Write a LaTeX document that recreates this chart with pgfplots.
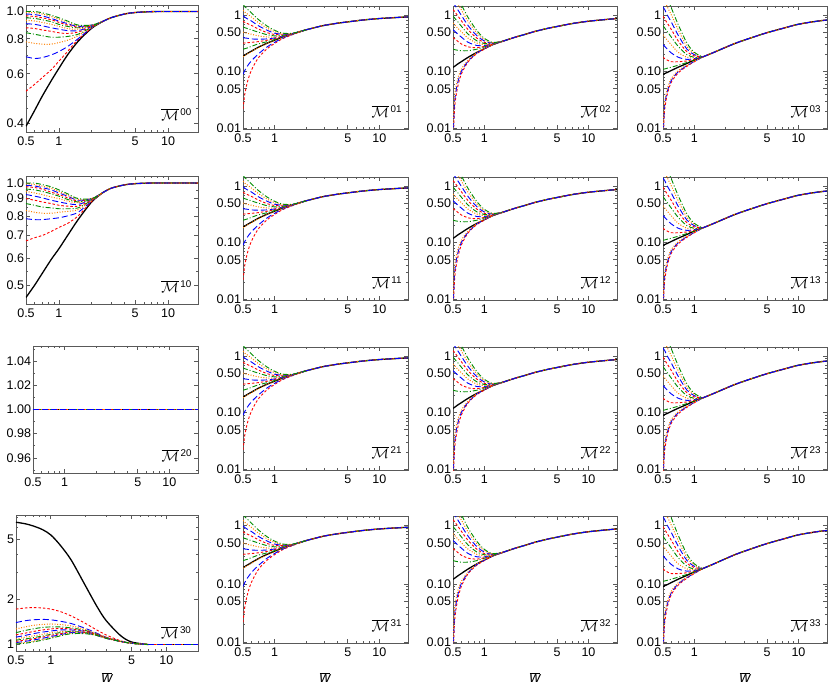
\documentclass[border=0pt]{standalone}
\usepackage{pgfplots}
\pgfplotsset{compat=1.18}
\usepackage{pgfplotstable}
\usepackage{fontspec}
\setmainfont{Liberation Sans}

\definecolor{cR}{rgb}{1,0,0}
\definecolor{cB}{rgb}{0,0,1}
\definecolor{cO}{rgb}{1,0.5,0}
\definecolor{cG}{rgb}{0,0.55,0}
\definecolor{frameC}{gray}{0.35}

% M00 head
\pgfplotstableread{
x k c1 c2 c3 c4 c5 c6 c7 c8 c9 c10 c11 c12
0.5 0.39 0.52 0.69 0.78 0.84 0.875 0.905 0.93 0.95 0.965 0.98 0.99 1.0
0.6 0.444 0.55 0.68 0.77 0.83 0.87 0.90 0.925 0.945 0.96 0.975 0.99 1.0
0.7 0.497 0.58 0.685 0.765 0.82 0.86 0.89 0.915 0.935 0.95 0.965 0.98 0.99
0.85 0.566 0.62 0.70 0.765 0.81 0.85 0.875 0.90 0.92 0.935 0.945 0.96 0.97
1 0.627 0.665 0.72 0.775 0.81 0.84 0.865 0.885 0.90 0.915 0.925 0.94 0.95
1.2 0.70 0.72 0.75 0.79 0.815 0.835 0.855 0.87 0.885 0.895 0.905 0.915 0.925
1.5 0.783 0.795 0.80 0.82 0.83 0.845 0.855 0.865 0.875 0.88 0.885 0.89 0.895
2 0.872 0.874 0.876 0.878 0.88 0.882 0.885 0.887 0.89 0.89 0.895 0.895 0.895
2.5 0.92 0.92 0.92 0.92 0.92 0.92 0.92 0.92 0.92 0.92 0.92 0.92 0.92
}\hAA
\pgfplotstableread{
x y
2.5 0.92
3 0.95
4 0.98
5 0.992
7 0.999
10 1.0
18.8 1.0
}\tAA

% M10 head
\pgfplotstableread{
x k c1 c2 c3 c4 c5 c6 c7 c8 c9 c10 c11 c12
0.5 0.46 0.675 0.785 0.83 0.87 0.90 0.925 0.945 0.96 0.975 0.985 0.995 1.0
0.6 0.50 0.69 0.78 0.82 0.86 0.89 0.915 0.935 0.955 0.97 0.98 0.99 1.0
0.7 0.54 0.70 0.78 0.815 0.85 0.88 0.905 0.925 0.945 0.96 0.97 0.98 0.99
0.85 0.595 0.72 0.785 0.815 0.845 0.87 0.89 0.91 0.93 0.94 0.955 0.965 0.975
1 0.64 0.74 0.79 0.82 0.84 0.86 0.88 0.90 0.915 0.925 0.935 0.945 0.955
1.2 0.70 0.76 0.80 0.825 0.84 0.855 0.87 0.885 0.895 0.905 0.915 0.92 0.93
1.5 0.78 0.80 0.82 0.835 0.845 0.855 0.865 0.875 0.88 0.885 0.89 0.895 0.90
2 0.88 0.883 0.885 0.888 0.89 0.89 0.895 0.895 0.895 0.90 0.90 0.90 0.90
2.5 0.935 0.935 0.935 0.935 0.935 0.935 0.935 0.935 0.935 0.935 0.935 0.935 0.935
}\hBA
\pgfplotstableread{
x y
2.5 0.935
3 0.965
4 0.988
5 0.996
7 1.0
10 1.0
18.8 1.0
}\tBA

% M20 (flat)
\pgfplotstableread{
x y
0.5 1
18.8 1
}\tCA

% M30 head
\pgfplotstableread{
x k c1 c2 c3 c4 c5 c6 c7 c8 c9 c10 c11 c12
0.5 6.5 1.72 1.40 1.27 1.20 1.16 1.12 1.09 1.07 1.05 1.03 1.02 1.01
0.6 6.35 1.75 1.44 1.31 1.24 1.19 1.15 1.12 1.09 1.07 1.05 1.03 1.02
0.7 6.15 1.76 1.46 1.34 1.27 1.22 1.18 1.14 1.11 1.09 1.07 1.05 1.04
0.85 5.8 1.75 1.47 1.36 1.30 1.25 1.21 1.17 1.14 1.12 1.10 1.08 1.07
1 5.35 1.72 1.46 1.37 1.31 1.27 1.23 1.20 1.17 1.15 1.13 1.11 1.10
1.2 4.6 1.66 1.43 1.36 1.31 1.28 1.25 1.22 1.20 1.18 1.16 1.15 1.14
1.5 3.65 1.55 1.38 1.33 1.29 1.27 1.25 1.23 1.22 1.21 1.20 1.19 1.18
2 2.45 1.38 1.28 1.26 1.24 1.23 1.22 1.21 1.20 1.20 1.19 1.19 1.18
2.5 1.8 1.25 1.19 1.18 1.17 1.17 1.16 1.16 1.16 1.16 1.15 1.15 1.15
3 1.45 1.16 1.12 1.12 1.11 1.11 1.11 1.11 1.11 1.11 1.10 1.10 1.10
4 1.15 1.06 1.05 1.05 1.05 1.05 1.05 1.05 1.05 1.05 1.05 1.05 1.05
5 1.04 1.02 1.02 1.02 1.02 1.02 1.02 1.02 1.02 1.02 1.02 1.02 1.02
7 1.0 1.0 1.0 1.0 1.0 1.0 1.0 1.0 1.0 1.0 1.0 1.0 1.0
}\hDA
\pgfplotstableread{
x y
7 1.0
10 1.0
18.8 1.0
}\tDA

% column 2 (M.1)
\pgfplotstableread{
x k c1 c2 c3 c4 c5 c6 c7 c8 c9 c10 c11 c12
0.5 0.19 0.022 0.09 0.185 0.25 0.32 0.40 0.50 0.62 0.78 0.98 1.22 1.55
0.51 0.193 0.03 0.097 0.188 0.252 0.321 0.398 0.495 0.61 0.76 0.95 1.18 1.48
0.52 0.197 0.04 0.105 0.192 0.255 0.322 0.395 0.49 0.60 0.745 0.92 1.13 1.41
0.55 0.21 0.065 0.125 0.205 0.263 0.325 0.39 0.475 0.58 0.71 0.86 1.05 1.28
0.6 0.23 0.105 0.155 0.225 0.28 0.33 0.38 0.46 0.55 0.66 0.79 0.93 1.1
0.7 0.27 0.175 0.205 0.265 0.31 0.34 0.375 0.43 0.50 0.57 0.65 0.74 0.84
0.85 0.32 0.255 0.275 0.315 0.34 0.36 0.38 0.41 0.45 0.49 0.54 0.59 0.64
1 0.36 0.315 0.33 0.355 0.37 0.385 0.395 0.41 0.43 0.455 0.48 0.51 0.54
1.2 0.41 0.385 0.395 0.405 0.415 0.42 0.425 0.43 0.44 0.45 0.46 0.47 0.48
1.5 0.47 0.455 0.46 0.465 0.47 0.47 0.47 0.47 0.47 0.47 0.475 0.475 0.48
2 0.55 0.55 0.55 0.55 0.55 0.55 0.55 0.55 0.55 0.55 0.55 0.55 0.55
}\hX
\pgfplotstableread{
x y
2 0.55
2.5 0.61
3 0.66
4 0.72
5 0.76
7 0.82
10 0.87
15 0.91
18.8 0.93
}\tX

% column 3 (M.2)
\pgfplotstableread{
x k c1 c2 c3 c4 c5 c6 c7 c8 c9 c10 c11 c12
0.5 0.12 0.005 0.007 0.01 0.25 0.40 0.55 0.72 0.95 1.25 1.7 2.2 3.0
0.51 0.122 0.012 0.016 0.022 0.248 0.39 0.535 0.70 0.92 1.2 1.6 2.1 2.8
0.52 0.125 0.025 0.032 0.04 0.245 0.38 0.52 0.67 0.88 1.15 1.5 2.0 2.6
0.55 0.135 0.05 0.06 0.07 0.24 0.35 0.47 0.60 0.78 1.0 1.28 1.65 2.1
0.6 0.15 0.09 0.10 0.11 0.235 0.31 0.41 0.51 0.64 0.80 1.0 1.25 1.55
0.7 0.18 0.15 0.155 0.16 0.235 0.275 0.33 0.39 0.46 0.55 0.65 0.77 0.9
0.85 0.22 0.21 0.215 0.22 0.25 0.265 0.29 0.32 0.35 0.39 0.43 0.48 0.53
1 0.255 0.25 0.255 0.26 0.275 0.28 0.29 0.30 0.315 0.33 0.35 0.37 0.39
1.2 0.30 0.30 0.30 0.30 0.305 0.305 0.31 0.31 0.315 0.32 0.32 0.325 0.33
1.5 0.345 0.345 0.345 0.345 0.345 0.345 0.345 0.345 0.345 0.345 0.345 0.345 0.345
}\hY
\pgfplotstableread{
x y
1.5 0.345
2 0.41
2.5 0.46
3 0.51
4 0.58
5 0.63
7 0.71
10 0.78
15 0.84
18.8 0.87
}\tY

% column 4 (M.3)
\pgfplotstableread{
x k c1 c2 c3 c4 c5 c6 c7 c8 c9 c10 c11 c12
0.5 0.09 0.005 0.007 0.009 0.11 0.18 0.30 0.45 0.65 0.95 1.4 2.0 2.8
0.51 0.091 0.012 0.015 0.018 0.111 0.175 0.29 0.43 0.62 0.90 1.32 1.88 2.6
0.52 0.093 0.022 0.027 0.03 0.112 0.17 0.28 0.41 0.59 0.85 1.25 1.75 2.4
0.55 0.097 0.04 0.045 0.05 0.115 0.16 0.25 0.36 0.51 0.72 1.0 1.4 1.9
0.6 0.105 0.065 0.07 0.075 0.12 0.15 0.215 0.30 0.41 0.56 0.76 1.02 1.35
0.7 0.12 0.095 0.10 0.104 0.13 0.15 0.18 0.22 0.28 0.35 0.44 0.55 0.68
0.85 0.14 0.125 0.128 0.131 0.145 0.155 0.165 0.18 0.20 0.225 0.25 0.28 0.32
1 0.16 0.15 0.152 0.154 0.162 0.166 0.17 0.175 0.18 0.19 0.20 0.21 0.22
1.2 0.182 0.182 0.182 0.182 0.182 0.182 0.182 0.182 0.182 0.182 0.182 0.182 0.182
}\hZ
\pgfplotstableread{
x y
1.2 0.182
1.5 0.215
2 0.27
2.5 0.32
3 0.36
4 0.43
5 0.49
7 0.58
10 0.69
15 0.78
18.8 0.82
}\tZ

\tikzset{
  kline/.style={black, line width=1.3pt, smooth},
  sR/.style={cR, line width=0.9pt, dash pattern=on 2.5pt off 2pt, smooth},
  sB/.style={cB, line width=0.9pt, dash pattern=on 6pt off 3pt, smooth},
  sO/.style={cO, line width=1pt, dash pattern=on 1pt off 1.6pt, smooth},
  sG/.style={cG, line width=0.9pt, dash pattern=on 5pt off 2pt on 1pt off 2pt, smooth},
}

\newcommand{\curves}[2]{%
  \addplot[kline] table[y=k]{#1};
  \addplot[kline] table{#2};
  \addplot[sR] table[y=c1]{#1};
  \addplot[sB] table[y=c2]{#1};
  \addplot[sO] table[y=c3]{#1};
  \addplot[sG] table[y=c4]{#1};
  \addplot[sR] table[y=c5]{#1};
  \addplot[sB] table[y=c6]{#1};
  \addplot[sO] table[y=c7]{#1};
  \addplot[sG] table[y=c8]{#1};
  \addplot[sR] table[y=c9]{#1};
  \addplot[sB] table[y=c10]{#1};
  \addplot[sO] table[y=c11]{#1};
  \addplot[sG] table[y=c12]{#1};
  \addplot[sG] table{#2};
  \addplot[sO] table{#2};
  \addplot[sR] table{#2};
  \addplot[sB] table{#2};
}
\newcommand{\mlab}[1]{\node[anchor=south east, inner sep=0pt, font=\fontsize{14}{16}\selectfont]
  at (rel axis cs:0.965,0.09) {$\overline{\mathcal{M}}$\textsuperscript{\,#1}};}

\pgfplotsset{
  mpanel/.style={
    scale only axis,
    xmin=0.5, xmax=18.8,
    xtick={0.5,1,5,10}, xticklabels={0.5,1,5,10},
    minor xtick={0.6,0.7,0.8,0.9,2,3,4,6,7,8,9},
    tick align=inside,
    axis line style={frameC, line width=0.7pt},
    every tick/.style={frameC, line width=0.6pt},
    major tick length=4pt, minor tick length=2.2pt,
    ticklabel style={font=\fontsize{12.5}{14}\selectfont, black},
    xticklabel style={yshift=-1pt},
    yticklabel style={xshift=1.5pt},
  },
  mcol/.style={
    ymin=0.0097, ymax=1.45,
    ytick={0.01,0.05,0.1,0.5,1}, yticklabels={0.01,0.05,0.10,0.50,1},
    minor ytick={0.02,0.03,0.04,0.06,0.07,0.08,0.09,0.2,0.3,0.4,0.6,0.7,0.8,0.9},
  },
}

\begin{document}
\begin{tikzpicture}[x=1pt,y=1pt]
\path[use as bounding box] (0,0) rectangle (831,689);

% ---- row 1
\begin{loglogaxis}[mpanel, anchor=south west, at={(26pt,557pt)}, width=172pt, height=127pt,
  ymin=0.372, ymax=1.055, ytick={0.4,0.6,0.8,1.0}, yticklabels={0.4,0.6,0.8,1.0},
  minor ytick={0.45,0.5,0.55,0.65,0.7,0.75,0.85,0.9,0.95}]
  \curves{\hAA}{\tAA}
  \mlab{00}
\end{loglogaxis}
\begin{loglogaxis}[mpanel, mcol, anchor=south west, at={(243pt,560pt)}, width=165pt, height=123pt]
  \curves{\hX}{\tX}
  \mlab{01}
\end{loglogaxis}
\begin{loglogaxis}[mpanel, mcol, anchor=south west, at={(453pt,560pt)}, width=164pt, height=123pt]
  \curves{\hY}{\tY}
  \mlab{02}
\end{loglogaxis}
\begin{loglogaxis}[mpanel, mcol, anchor=south west, at={(663pt,560pt)}, width=164pt, height=123pt]
  \curves{\hZ}{\tZ}
  \mlab{03}
\end{loglogaxis}

% ---- row 2
\begin{loglogaxis}[mpanel, anchor=south west, at={(26pt,385pt)}, width=172pt, height=128pt,
  ymin=0.44, ymax=1.049, ytick={0.5,0.6,0.7,0.8,0.9,1.0}, yticklabels={0.5,0.6,0.7,0.8,0.9,1.0},
  minor ytick={0.55,0.65,0.75,0.85,0.95}]
  \curves{\hBA}{\tBA}
  \mlab{10}
\end{loglogaxis}
\begin{loglogaxis}[mpanel, mcol, anchor=south west, at={(243pt,389pt)}, width=165pt, height=123pt]
  \curves{\hX}{\tX}
  \mlab{11}
\end{loglogaxis}
\begin{loglogaxis}[mpanel, mcol, anchor=south west, at={(453pt,389pt)}, width=164pt, height=123pt]
  \curves{\hY}{\tY}
  \mlab{12}
\end{loglogaxis}
\begin{loglogaxis}[mpanel, mcol, anchor=south west, at={(663pt,389pt)}, width=164pt, height=123pt]
  \curves{\hZ}{\tZ}
  \mlab{13}
\end{loglogaxis}

% ---- row 3
\begin{semilogxaxis}[mpanel, anchor=south west, at={(33pt,216pt)}, width=165pt, height=127pt,
  ymin=0.9475, ymax=1.0525, ytick={0.96,0.98,1,1.02,1.04}, yticklabels={0.96,0.98,1.00,1.02,1.04},
  minor ytick={0.95,0.97,0.99,1.01,1.03,1.05}]
  \addplot[kline] table{\tCA};
  \addplot[sG] table{\tCA};
  \addplot[sO] table{\tCA};
  \addplot[sR] table{\tCA};
  \addplot[sB] table{\tCA};
  \mlab{20}
\end{semilogxaxis}
\begin{loglogaxis}[mpanel, mcol, anchor=south west, at={(243pt,219pt)}, width=165pt, height=123pt]
  \curves{\hX}{\tX}
  \mlab{21}
\end{loglogaxis}
\begin{loglogaxis}[mpanel, mcol, anchor=south west, at={(453pt,219pt)}, width=164pt, height=123pt]
  \curves{\hY}{\tY}
  \mlab{22}
\end{loglogaxis}
\begin{loglogaxis}[mpanel, mcol, anchor=south west, at={(663pt,219pt)}, width=164pt, height=123pt]
  \curves{\hZ}{\tZ}
  \mlab{23}
\end{loglogaxis}

% ---- row 4
\begin{loglogaxis}[mpanel, anchor=south west, at={(16pt,38pt)}, width=182pt, height=136pt,
  ymin=0.906, ymax=7.26, ytick={1,2,5}, yticklabels={1,2,5},
  minor ytick={3,4,6,7}]
  \curves{\hDA}{\tDA}
  \mlab{30}
\end{loglogaxis}
\begin{loglogaxis}[mpanel, mcol, anchor=south west, at={(243pt,46pt)}, width=165pt, height=127pt]
  \curves{\hX}{\tX}
  \mlab{31}
\end{loglogaxis}
\begin{loglogaxis}[mpanel, mcol, anchor=south west, at={(453pt,46pt)}, width=164pt, height=127pt]
  \curves{\hY}{\tY}
  \mlab{32}
\end{loglogaxis}
\begin{loglogaxis}[mpanel, mcol, anchor=south west, at={(663pt,46pt)}, width=164pt, height=127pt]
  \curves{\hZ}{\tZ}
  \mlab{33}
\end{loglogaxis}

\foreach \cx in {107,325,535,745}
  \node[font=\fontsize{15}{17}\selectfont] at (\cx,11) {$\overline{\mbox{\itshape w}}$};
\end{tikzpicture}
\end{document}
